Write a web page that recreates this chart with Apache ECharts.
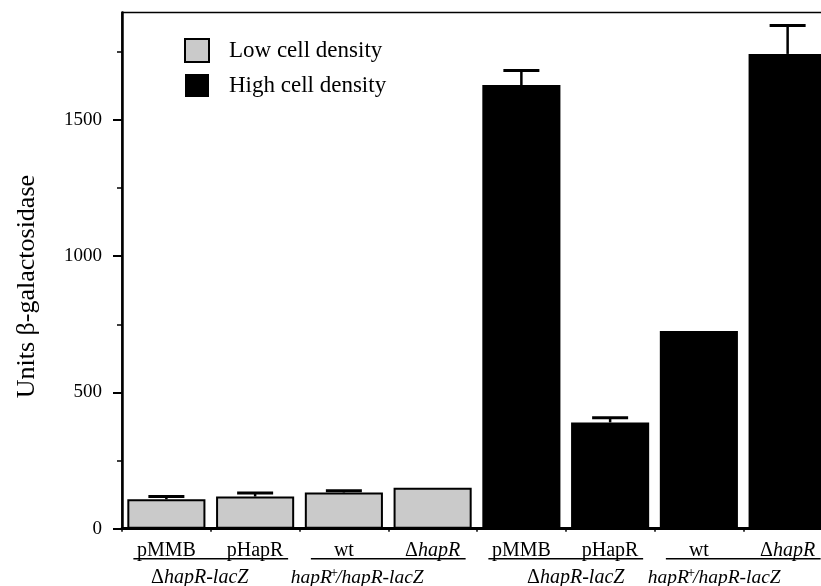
<!DOCTYPE html>
<html><head><meta charset="utf-8">
<script src="https://cdn.jsdelivr.net/npm/echarts@6/dist/echarts.min.js"></script>
<style>html,body{margin:0;padding:0;background:#fff}#c{width:821px;height:586px}</style>
</head><body><div id="c"></div>
<script>
const categories = ['pMMB', 'pHapR', 'wt', 'ΔhapR', 'pMMB', 'pHapR', 'wt', 'ΔhapR'];
const groups = ['ΔhapR-lacZ', 'hapR+/hapR-lacZ', 'ΔhapR-lacZ', 'hapR+/hapR-lacZ'];
const lowDensity = [108, 118, 133, 150, '-', '-', '-', '-'];
const lowErr = [10, 13, 6, 0, '-', '-', '-', '-'];
const highDensity = ['-', '-', '-', '-', 1628, 390, 725, 1742];
const highErr = ['-', '-', '-', '-', 53, 17, 0, 104];
const yMajorTicks = [0, 500, 1000, 1500];
const yMinorTicks = [250, 750, 1250, 1750];
const yMax = 1894;

const FONT = 'Liberation Serif';
const chart = echarts.init(document.getElementById('c'), null, {renderer: 'canvas'});

function catFmt(v) {
  if (v === 'ΔhapR') return '{n|Δ}{i|hapR}';
  return '{n|' + v + '}';
}
// small per-label nudges (spacer tokens) to match the hand placement of the group captions
const grpSpacers = [['', '{g22| }'], ['', '{g62| }'], ['{g20| }', ''], ['', '{g58| }']];
function grpFmt(v, idx) {
  let s;
  if (v.indexOf('Δ') === 0) s = '{n|Δ}{i|' + v.slice(1) + '}';
  else {
    const k = v.indexOf('+');
    s = '{i2|' + v.slice(0, k) + '}{sup|+}{i2|' + v.slice(k + 1) + '}';
  }
  const sp = grpSpacers[idx] || ['', ''];
  return sp[0] + s + sp[1];
}
function errData(vals, errs) {
  const out = [];
  vals.forEach((v, i) => { if (v !== '-' && errs[i] > 0) out.push([i, v, errs[i]]); });
  return out;
}
function errItem(params, api) {
  const x = api.value(0), v = api.value(1), e = api.value(2);
  const p0 = api.coord([x, v]);
  const p1 = api.coord([x, v + e]);
  const w = 36;
  return {type: 'group', children: [
    {type: 'line', shape: {x1: p0[0], y1: p0[1], x2: p1[0], y2: p1[1]}, style: {stroke: '#000', lineWidth: 2.5}},
    {type: 'line', shape: {x1: p1[0] - w / 2, y1: p1[1], x2: p1[0] + w / 2, y2: p1[1]}, style: {stroke: '#000', lineWidth: 3}}
  ]};
}
function grpLine(params, api) {
  const a = api.coord([api.value(0), 0]);
  const b = api.coord([api.value(0) + 1, 0]);
  return {type: 'line', shape: {x1: a[0] - 33, y1: a[1] + 30, x2: b[0] + 33, y2: a[1] + 30},
    style: {stroke: '#000', lineWidth: 1.5}};
}

const rich = {
  n: {fontFamily: FONT, fontSize: 20, color: '#000', lineHeight: 22},
  i: {fontFamily: FONT, fontSize: 20, fontStyle: 'italic', color: '#000', lineHeight: 22},
  i2: {fontFamily: FONT, fontSize: 19.5, fontStyle: 'italic', color: '#000', lineHeight: 22},
  sup: {fontFamily: FONT, fontSize: 14, fontStyle: 'italic', color: '#000', lineHeight: 12, verticalAlign: 'top', width: 4},
  g20: {width: 20, fontSize: 20, lineHeight: 22},
  g22: {width: 22, fontSize: 20, lineHeight: 22},
  g58: {width: 58, fontSize: 20, lineHeight: 22},
  g62: {width: 62, fontSize: 20, lineHeight: 22}
};

chart.setOption({
  animation: false,
  backgroundColor: '#fff',
  grid: {left: 122, top: 12.5, width: 710, height: 516.2, outerBoundsMode: 'none', containLabel: false,
    show: true, borderColor: '#000', borderWidth: 1.5, backgroundColor: 'transparent'},
  legend: {
    orient: 'vertical', left: 179, top: 33, itemWidth: 24, itemHeight: 23, itemGap: 11, icon: 'rect',
    data: ['Low cell density', 'High cell density'],
    textStyle: {fontFamily: FONT, fontSize: 23, color: '#000', padding: [0, 0, 0, 15]}
  },
  xAxis: [{
    type: 'category', data: categories, position: 'bottom',
    axisLine: {lineStyle: {color: '#000', width: 3}},
    axisTick: {show: true, length: 3, lineStyle: {color: '#000', width: 1.5}},
    axisLabel: {interval: 0, margin: 11, formatter: catFmt, rich: rich}
  }, {
    type: 'category', data: groups, position: 'bottom',
    axisLine: {show: false}, axisTick: {show: false},
    axisLabel: {interval: 0, margin: 38, formatter: grpFmt, rich: rich}
  }],
  yAxis: [{
    type: 'value', min: 0, max: yMax, position: 'left',
    name: 'Units β-galactosidase', nameLocation: 'middle', nameRotate: 90, nameGap: 82,
    nameTextStyle: {fontFamily: FONT, fontSize: 26, color: '#000', padding: [0, 32, 0, 0]},
    axisLine: {show: true, lineStyle: {color: '#000', width: 2.5}},
    axisTick: {show: true, customValues: yMajorTicks, length: 9, lineStyle: {color: '#000', width: 2}},
    axisLabel: {customValues: yMajorTicks, margin: 20, fontFamily: FONT, fontSize: 19, color: '#000',
      formatter: v => String(v)},
    splitLine: {show: false}
  }, {
    type: 'value', min: 0, max: yMax, position: 'left',
    axisLine: {show: false},
    axisTick: {show: true, customValues: yMinorTicks, length: 5, lineStyle: {color: '#000', width: 1.5}},
    axisLabel: {show: false}, splitLine: {show: false}
  }],
  series: [{
    name: 'Low cell density', type: 'bar', data: lowDensity, barWidth: '88%', barGap: '-100%',
    itemStyle: {color: '#cacaca', borderColor: '#000', borderWidth: 2}
  }, {
    name: 'High cell density', type: 'bar', data: highDensity, barWidth: '88%', barGap: '-100%',
    itemStyle: {color: '#000'}
  }, {
    type: 'custom', renderItem: errItem, data: errData(lowDensity, lowErr), silent: true, z: 5
  }, {
    type: 'custom', renderItem: errItem, data: errData(highDensity, highErr), silent: true, z: 5
  }, {
    type: 'custom', renderItem: grpLine, data: groups.map((g, i) => [2 * i, 0]), clip: false, silent: true
  }]
});
</script></body></html>
